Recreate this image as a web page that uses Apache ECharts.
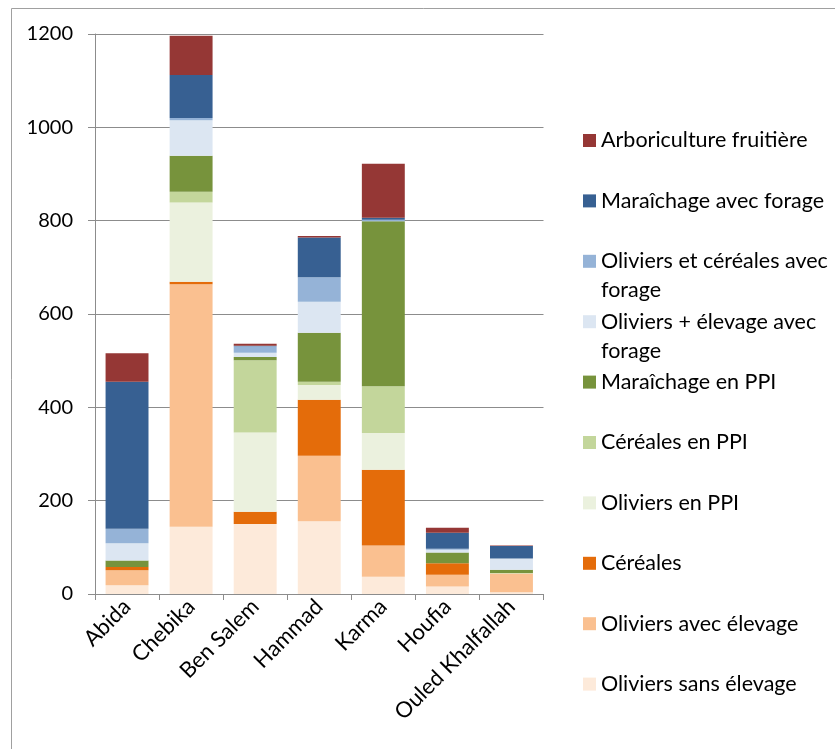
<!DOCTYPE html>
<html>
<head>
<meta charset="utf-8">
<script src="https://cdn.jsdelivr.net/npm/echarts@6/dist/echarts.min.js"></script>
<style>
  html, body { margin: 0; padding: 0; background: #fff; }
  #chart { width: 835px; height: 749px; }
</style>
</head>
<body>
<div id="chart"></div>
<script>
// Surfaces by farming system and site (stacked bottom to top)
const sites = ['Abida', 'Chebika', 'Ben Salem', 'Hammad', 'Karma', 'Houfia', 'Ouled Khalfallah'];

const oliviersSansElevage   = [19, 144, 150, 156, 37, 16, 4];
const oliviersAvecElevage   = [32, 520, 0, 140, 67, 25, 40];
const cereales              = [7, 5, 26, 120, 162, 25, 0];
const oliviersPPI           = [0, 170, 170, 32, 79, 0, 0];
const cerealesPPI           = [0, 23, 155, 7, 100, 0, 1];
const maraichagePPI         = [14, 77, 7, 105, 354, 23, 7];
const oliviersElevageForage = [37, 76, 9, 66, 0, 6, 24];
const oliviersCerealesForage= [31, 5, 14, 53, 3, 2, 0];
const maraichageForage      = [315, 92, 1, 85, 4, 34, 27];
const arboriculture         = [61, 84, 4, 3, 116, 11, 1];

const yTicks = [0, 200, 400, 600, 800, 1000, 1200];

const seriesDefs = [
  { name: 'Oliviers sans élevage', data: oliviersSansElevage, color: '#FDEADA' },
  { name: 'Oliviers avec élevage', data: oliviersAvecElevage, color: '#FAC090' },
  { name: 'Céréales', data: cereales, color: '#E46C0A' },
  { name: 'Oliviers en PPI', data: oliviersPPI, color: '#EBF1DE' },
  { name: 'Céréales en PPI', data: cerealesPPI, color: '#C3D69B' },
  { name: 'Maraîchage en PPI', data: maraichagePPI, color: '#77933C' },
  { name: 'Oliviers + élevage avec forage', data: oliviersElevageForage, color: '#DCE6F2' },
  { name: 'Oliviers et céréales avec forage', data: oliviersCerealesForage, color: '#95B3D7' },
  { name: 'Maraîchage avec forage', data: maraichageForage, color: '#376092' },
  { name: 'Arboriculture fruitière', data: arboriculture, color: '#953735' }
];

// Legend labels that wrap onto a second line; the leading blank line keeps
// the first text line level with the colour square.
const wrapped = {
  'Oliviers et céréales avec forage': '\nOliviers et céréales avec\nforage',
  'Oliviers + élevage avec forage': '\nOliviers + élevage avec\nforage'
};

const FONT = 'Lato';
const LINE_H = 29;

// One legend block per entry, listed top to bottom (reverse of stacking)
const legendOrder = seriesDefs.slice().reverse();
const legends = legendOrder.map((s, i) => {
  const centerY = 140.5 + i * 60.4;
  const twoLines = !!wrapped[s.name];
  return {
    data: [s.name],
    orient: 'vertical',
    left: 583,
    top: twoLines ? centerY - LINE_H * 1.5 : centerY - LINE_H / 2,
    padding: 0,
    itemWidth: 13,
    itemHeight: 13,
    icon: 'rect',
    selectedMode: false,
    formatter: (n) => wrapped[n] || n,
    textStyle: {
      fontFamily: FONT,
      fontSize: 21.5,
      color: '#000',
      lineHeight: LINE_H
    }
  };
});

const chart = echarts.init(document.getElementById('chart'), null, { renderer: 'canvas' });

chart.setOption({
  animation: false,
  backgroundColor: '#fff',
  textStyle: { fontFamily: FONT },
  graphic: [{
    type: 'rect',
    shape: { x: 11.5, y: 8.5, width: 1000, height: 1000 },
    style: { fill: 'none', stroke: '#a0a0a0', lineWidth: 1 },
    silent: true,
    z: -10
  }],
  legend: legends,
  grid: { left: 95, right: 291.5, top: 34, bottom: 155, containLabel: false },
  xAxis: {
    type: 'category',
    data: sites,
    boundaryGap: true,
    axisLine: { show: true, lineStyle: { color: '#8c8c8c', width: 1 } },
    axisTick: { show: true, alignWithLabel: false, length: 6, lineStyle: { color: '#8c8c8c' } },
    axisLabel: {
      rotate: 45,
      interval: 0,
      margin: 9,
      fontFamily: FONT,
      fontSize: 22,
      color: '#000'
    },
    splitLine: { show: false }
  },
  yAxis: {
    type: 'value',
    min: yTicks[0],
    max: yTicks[yTicks.length - 1],
    interval: yTicks[1] - yTicks[0],
    axisLine: { show: true, lineStyle: { color: '#8c8c8c', width: 1 } },
    axisTick: { show: true, inside: false, length: 7, lineStyle: { color: '#8c8c8c' } },
    axisLabel: {
      margin: 22,
      fontFamily: FONT,
      fontSize: 20,
      color: '#000',
      formatter: (v) => String(v)
    },
    splitLine: { show: true, lineStyle: { color: '#8c8c8c', width: 1 } }
  },
  series: seriesDefs.map(s => ({
    name: s.name,
    type: 'bar',
    stack: 'surface',
    barCategoryGap: '33%',
    data: s.data,
    itemStyle: { color: s.color },
    emphasis: { disabled: true }
  }))
});
</script>
</body>
</html>
